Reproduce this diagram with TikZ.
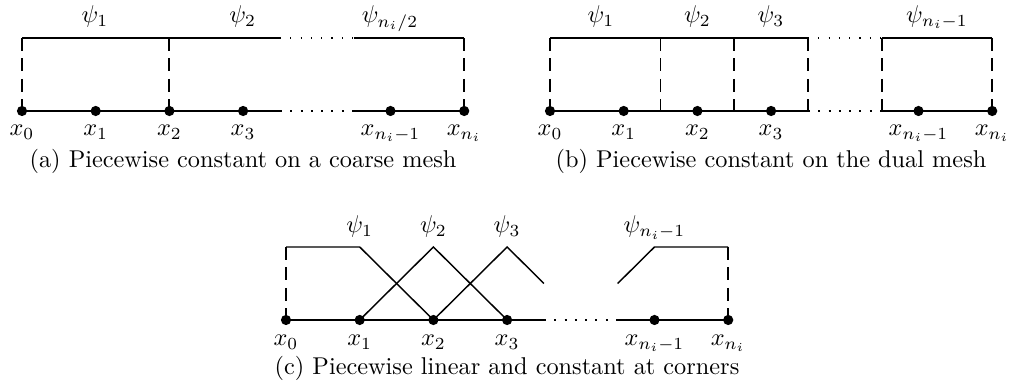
\documentclass[tikz,border=0pt]{standalone}
\tikzset{
  axisline/.style={line width=1.1pt},
  topline/.style={line width=0.75pt},
  vdash/.style={line width=0.75pt, dash pattern=on 5.3pt off 3.1pt},
  dotline/.style={line width=0.8pt, dash pattern=on 0.8pt off 3.44pt},
  topdots/.style={line width=0.5pt, dash pattern=on 0.5pt off 3.74pt},
  basisline/.style={line width=0.6pt},
  meshpt/.style={circle, fill, inner sep=0pt, minimum size=4.2pt},
  lab/.style={anchor=base, inner sep=0pt},
  captext/.style={anchor=base, inner sep=0pt}
}
\begin{document}
\begin{tikzpicture}[x=0.4115pt,y=-0.4115pt]
\useasboundingbox (0,0) rectangle (1010,392);
% ---------- panel (a) ----------
\foreach \i in {0,...,6}{
  \coordinate (a\i) at ({22+73.7*\i},111);
  \coordinate (at\i) at ({22+73.7*\i},38);
}
\coordinate (am) at ({22+73.7*3.5},111);
\coordinate (an) at ({22+73.7*4.5},111);
\coordinate (atm) at ({22+73.7*3.5},38);
\coordinate (atn) at ({22+73.7*4.5},38);
\draw[vdash] (at0) -- (a0);
\draw[vdash] (at2) -- (a2);
\draw[vdash] (at6) -- (a6);
\draw[topline] (at0) -- (atm);
\draw[topdots] (atm) -- (atn);
\draw[topline] (atn) -- (at6);
\draw[axisline] (a0) -- (am);
\draw[dotline] (am) -- (an);
\draw[axisline] (an) -- (a6);
\foreach \i in {0,1,2,3,5,6}{ \node[meshpt] (pa\i) at (a\i) {}; }
\node[lab] (xa0) at (a0|-0,135.5) {$x_0$};
\node[lab] (xa1) at (a1|-0,135.5) {$x_1$};
\node[lab] (xa2) at (a2|-0,135.5) {$x_2$};
\node[lab] (xa3) at (a3|-0,135.5) {$x_3$};
\node[lab] (xa5) at (a5|-0,135.5) {$x_{n_i-1}$};
\node[lab] (xa6) at (a6|-0,135.5) {$x_{n_i}$};
\node[lab] (psia1) at (95,22.7) {$\psi_1$};
\node[lab] (psia2) at (242.7,22.7) {$\psi_2$};
\node[lab] (psia3) at (390,22.7) {$\psi_{n_i/2}$};
\node[captext] (capa) at (243,168) {(a) Piecewise constant on a coarse mesh};
% ---------- panel (b) ----------
\foreach \i in {0,...,6}{
  \coordinate (b\i) at ({550+73.7*\i},111);
  \coordinate (bt\i) at ({550+73.7*\i},38);
}
\foreach \j/\k in {15/1.5,25/2.5,35/3.5,45/4.5}{
  \coordinate (bh\j) at ({550+73.7*\k},111);
  \coordinate (bth\j) at ({550+73.7*\k},38);
}
\draw[vdash] (bt0) -- (b0);
\draw[vdash] (bth15) -- (bh15);
\draw[vdash] (bth25) -- (bh25);
\draw[vdash] (bth35) -- (bh35);
\draw[vdash] (bth45) -- (bh45);
\draw[vdash] (bt6) -- (b6);
\draw[topline] (bt0) -- (bth35);
\draw[topdots] (bth35) -- (bth45);
\draw[topline] (bth45) -- (bt6);
\draw[axisline] (b0) -- (bh35);
\draw[dotline] (bh35) -- (bh45);
\draw[axisline] (bh45) -- (b6);
\foreach \i in {0,1,2,3,5,6}{ \node[meshpt] (pb\i) at (b\i) {}; }
\node[lab] (xb0) at (b0|-0,135.5) {$x_0$};
\node[lab] (xb1) at (b1|-0,135.5) {$x_1$};
\node[lab] (xb2) at (b2|-0,135.5) {$x_2$};
\node[lab] (xb3) at (b3|-0,135.5) {$x_3$};
\node[lab] (xb5) at (b5|-0,135.5) {$x_{n_i-1}$};
\node[lab] (xb6) at (b6|-0,135.5) {$x_{n_i}$};
\node[lab] (psib1) at (601,22.7) {$\psi_1$};
\node[lab] (psib2) at (697.4,22.7) {$\psi_2$};
\node[lab] (psib3) at (771,22.7) {$\psi_3$};
\node[lab] (psib5) at (937,22.7) {$\psi_{n_i-1}$};
\node[captext] (capb) at (771,168) {(b) Piecewise constant on the dual mesh};
% ---------- panel (c) ----------
\foreach \i in {0,...,6}{
  \coordinate (c\i) at ({286+73.7*\i},320);
  \coordinate (ct\i) at ({286+73.7*\i},247);
}
\coordinate (cm) at ({286+73.7*3.5},320);
\coordinate (cn) at ({286+73.7*4.5},320);
\coordinate (cmm) at ({286+73.7*3.5},283.5);
\coordinate (cnm) at ({286+73.7*4.5},283.5);
\draw[vdash] (ct0) -- (c0);
\draw[vdash] (ct6) -- (c6);
\draw[basisline] (ct0) -- (ct1) -- (c2);
\draw[basisline] (c1) -- (ct2) -- (c3);
\draw[basisline] (c2) -- (ct3) -- (cmm);
\draw[basisline] (cnm) -- (ct5) -- (ct6);
\draw[axisline] (c0) -- (cm);
\draw[dotline] (cm) -- (cn);
\draw[axisline] (cn) -- (c6);
\foreach \i in {0,1,2,3,5,6}{ \node[meshpt] (pc\i) at (c\i) {}; }
\node[lab] (xc0) at (c0|-0,345.5) {$x_0$};
\node[lab] (xc1) at (c1|-0,345.5) {$x_1$};
\node[lab] (xc2) at (c2|-0,345.5) {$x_2$};
\node[lab] (xc3) at (c3|-0,345.5) {$x_3$};
\node[lab] (xc5) at (c5|-0,345.5) {$x_{n_i-1}$};
\node[lab] (xc6) at (c6|-0,345.5) {$x_{n_i}$};
\node[lab] (psic1) at (ct1|-0,233) {$\psi_1$};
\node[lab] (psic2) at (ct2|-0,233) {$\psi_2$};
\node[lab] (psic3) at (ct3|-0,233) {$\psi_3$};
\node[lab] (psic5) at (ct5|-0,233) {$\psi_{n_i-1}$};
\node[captext] (capc) at (507,375) {(c) Piecewise linear and constant at corners};
\end{tikzpicture}
\end{document}
